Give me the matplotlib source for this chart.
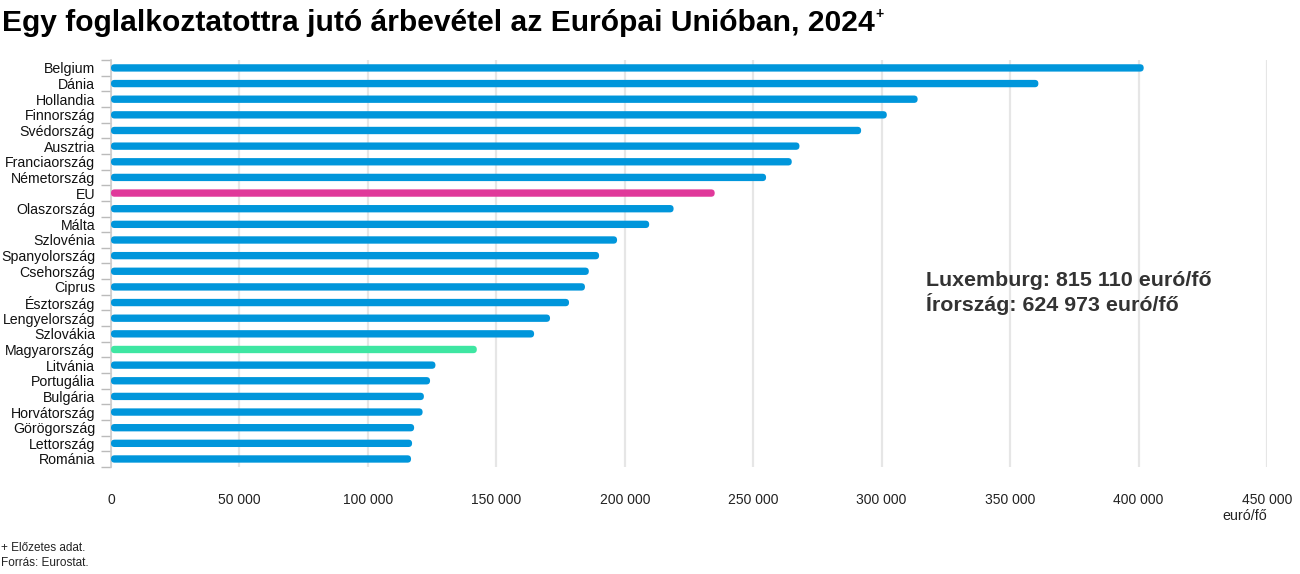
import matplotlib
matplotlib.use("Agg")
import matplotlib.pyplot as plt
from matplotlib.patches import FancyBboxPatch
from matplotlib.ticker import FuncFormatter, FixedLocator

plt.rcParams['font.family'] = ['Liberation Sans', 'DejaVu Sans']

countries = ["Belgium", "Dánia", "Hollandia", "Finnország", "Svédország", "Ausztria",
             "Franciaország", "Németország", "EU", "Olaszország", "Málta", "Szlovénia",
             "Spanyolország", "Csehország", "Ciprus", "Észtország", "Lengyelország",
             "Szlovákia", "Magyarország", "Litvánia", "Portugália", "Bulgária",
             "Horvátország", "Görögország", "Lettország", "Románia"]
values = [402000, 361000, 314000, 302000, 292000, 268000,
          265000, 255000, 235000, 219000, 209500, 197000,
          190000, 186000, 184500, 178300, 170900,
          164700, 142400, 126300, 124200, 121800,
          121300, 118000, 117200, 116800]
x_ticks = [0, 50000, 100000, 150000, 200000, 250000, 300000, 350000, 400000, 450000]

BLUE = "#0096db"
PINK = "#e0399a"
GREEN = "#3ee6a2"
colors = [PINK if c == "EU" else GREEN if c == "Magyarország" else BLUE for c in countries]

fig = plt.figure(figsize=(13, 5.74), dpi=100)
ax = fig.add_axes([111/1300, 1 - 466.8/574, 1156/1300, 406.7/574])

ypos = list(range(len(countries)))
bar_h = 0.47
bars = ax.barh(ypos, values, height=bar_h, color=colors)
# replace with rounded bars
px_x = 450000 / 1156
px_y = 1 / 15.64
r_px = 3.6
for b, col in zip(bars, colors):
    x0, y0 = b.get_x(), b.get_y()
    w, h = b.get_width(), b.get_height()
    b.set_visible(False)
    p = FancyBboxPatch((x0, y0), w, h,
                       boxstyle=f"round,pad=0,rounding_size={r_px*px_x}",
                       mutation_aspect=px_y / px_x,
                       facecolor=col, edgecolor="none", zorder=3, clip_on=True)
    ax.add_patch(p)

ax.set_xlim(0, 450000)
ax.set_ylim(len(countries) - 0.5, -0.5)

ax.xaxis.set_major_locator(FixedLocator(x_ticks))
ax.xaxis.set_major_formatter(FuncFormatter(lambda v, p: f"{int(v):,}".replace(",", " ")))
ax.grid(axis="x", color="#e6e6e6", linewidth=1.6, zorder=0)
ax.set_axisbelow(True)
ax.tick_params(axis="x", length=0, pad=19, labelsize=10, labelcolor="#222222")

ax.set_yticks(ypos)
ax.set_yticklabels(countries)
ax.tick_params(axis="y", which="major", length=0, pad=11.5, labelsize=10.2, labelcolor="#111111")
ax.set_yticks([i - 0.5 for i in range(len(countries) + 1)], minor=True)
ax.tick_params(axis="y", which="minor", length=7, width=1, color="#bbbbbb")

for s in ["top", "right", "bottom"]:
    ax.spines[s].set_visible(False)
ax.spines["left"].set_color("#cccccc")
ax.spines["left"].set_linewidth(1.2)

fig.text(1245/1300, 1 - 516/574, "euró/fő", ha="center", va="center", fontsize=10.3, color="#222222")

ax.text(926/1300, 1 - 280/574, "Luxemburg: 815 110 euró/fő", transform=fig.transFigure,
        ha="left", va="center", fontsize=15.4, fontweight="bold", color="#333333")
ax.text(926/1300, 1 - 304/574, "Írország: 624 973 euró/fő", transform=fig.transFigure,
        ha="left", va="center", fontsize=15.4, fontweight="bold", color="#333333")

title = fig.text(2/1300, 1 - 23/574, "Egy foglalkoztatottra jutó árbevétel az Európai Unióban, 2024",
                 ha="left", va="center", fontsize=21.6, fontweight="bold", color="#000000")
fig.canvas.draw()
bb = title.get_window_extent()
fig.text((bb.x1 + 1) / 1300, 1 - 14/574, "+", ha="left", va="center", fontsize=10,
         fontweight="bold", color="#000000")

fig.text(1/1300, 1 - 548/574, "+ Előzetes adat.", ha="left", va="center", fontsize=8.5, color="#222222")
fig.text(1/1300, 1 - 563/574, "Forrás: Eurostat.", ha="left", va="center", fontsize=8.5, color="#222222")

fig.savefig("out.png", dpi=100, facecolor="white")
